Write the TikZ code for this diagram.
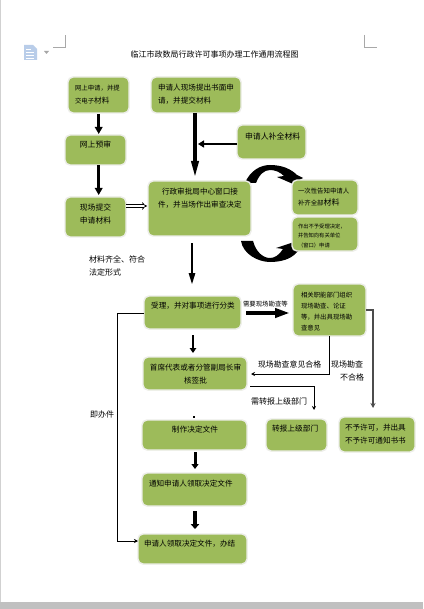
\documentclass[tikz,border=0pt]{standalone}
\usepackage{fontspec}
\setmainfont{Noto Sans CJK SC}
\usetikzlibrary{arrows.meta,calc}
\definecolor{boxgreen}{HTML}{9DBB5A}
\definecolor{boxedge}{HTML}{ECEDE8}
\definecolor{bandgray}{HTML}{C0C0C0}
\definecolor{marklines}{HTML}{A8A8A8}
\definecolor{iconblue}{HTML}{B9CDE9}
\newcommand{\fs}[1]{\fontsize{#1}{#1}\selectfont}
\newcommand{\bx}[5]{\node[greenbox,minimum width=#4pt-#2pt,minimum height=#5pt-#3pt] (#1) at ({(#2+#4)/2},{(#3+#5)/2}) {};}
\tikzset{
  x=1pt,y=-1pt,
  greenbox/.style={draw=boxedge,fill=boxgreen,line width=1.4pt,rounded corners=5pt,inner sep=0pt,outer sep=0pt},
  txt/.style={inner sep=0pt,outer sep=0pt,align=left,text=black},
  txtc/.style={inner sep=0pt,outer sep=0pt,align=center,text=black},
  heavy/.style={draw=black,line width=3pt,-{Triangle[length=7pt,width=7.5pt]}},
  thinarrow/.style={draw=black,line width=0.9pt,-{Stealth[length=4pt,width=4pt]}},
  grayarrow/.style={draw=black!70,line width=1.3pt,-{Stealth[length=5pt,width=5pt]}},
  curveblob/.style={fill=black,draw=none},
  cropmark/.style={draw=marklines,line width=0.6pt},
}
\begin{document}
\begin{tikzpicture}
\useasboundingbox (0,0) rectangle (423,609);
\fill[white] (0,0) rectangle (423,609);
\fill[black!18] (0,0) rectangle (1,602);
\fill[bandgray] (0,602) rectangle (423,609);
% page marks and icon
\draw[cropmark] (53,47) -- (65,47) -- (65,35);
\draw[cropmark] (364,35) -- (364,47) -- (377,47);
\fill[iconblue] (24,45) -- (33,45) -- (37,49) -- (37,60) -- (24,60) -- cycle;
\draw[white,line width=0.8pt] (26,49)--(31,49) (26,52)--(34,52) (26,55)--(34,55) (26,58)--(34,58);
\fill[black!35] (44,51) -- (49,51) -- (46.5,54) -- cycle;
% title
\node[txtc] (title) at (214.5,54) {\fs{8}临江市政数局行政许可事项办理工作通用流程图};
% curved arrows (below boxes)
\fill[curveblob] (245,183) .. controls (250,171) and (260,165) .. (270,165)
  .. controls (282,165) and (291,169) .. (297,175) -- (303,178) -- (292,183.5) -- (277,177)
  -- (284,176) .. controls (280,172) and (275,170) .. (270,170)
  .. controls (264,170) and (259,175) .. (256,183) -- cycle;
\fill[curveblob] (241,241) .. controls (243,254) and (258,262) .. (270,262)
  .. controls (281,262) and (291,259) .. (296,253) -- (303,247) -- (297,241) -- (276,248)
  -- (283,249) .. controls (279,255) and (275,258) .. (270,258)
  .. controls (263,258) and (256,252) .. (253,241) -- cycle;
% boxes
\bx{A}{68}{77}{129}{113}
\bx{B}{151}{77}{241}{113}
\bx{C}{65}{135}{126}{165}
\bx{D}{65}{197}{126}{237}
\bx{E}{148}{181}{251}{236}
\bx{F}{237}{125}{306}{159}
\bx{G}{292}{180}{358}{215}
\bx{H}{292}{217}{358}{251}
\bx{I}{144}{296}{241}{329}
\bx{J}{143}{357}{247}{390}
\bx{K}{293}{284}{366}{336}
\bx{L}{142}{420}{247}{450}
\bx{M}{142}{473}{247}{506}
\bx{N}{138}{534}{247}{564}
\bx{O}{266}{419}{327}{451}
\bx{P}{339}{417}{415}{452}
% box texts
\node[txt,anchor=west] (At1) at (75,88) {\fs{6.4}网上申请，并提};
\node[txt,anchor=west] (At2) at (75,101) {\fs{6.4}交电子\fs{7.6}材料};
\node[txt,anchor=west] (Bt1) at (158,88) {\fs{7.6}申请人现场提出书面申};
\node[txt,anchor=west] (Bt2) at (158,101) {\fs{7.6}请，并提交材料};
\node[txtc] (Ct) at (95.5,145) {\fs{7.8}网上预审};
\node[txtc] (Dt1) at (95.5,208) {\fs{7.8}现场提交};
\node[txtc] (Dt2) at (95.5,221) {\fs{7.8}申请材料};
\node[txt,anchor=west] (Et1) at (162,192) {\fs{7.6}行政审批局中心窗口接};
\node[txt,anchor=west] (Et2) at (158,205) {\fs{7.6}件，并当场作出审查决定};
\node[txt,anchor=west] (Ft) at (245,136) {\fs{7.9}申请人补全材料};
\node[txt,anchor=west] (Gt1) at (298,191) {\fs{6.4}一次性告知申请人};
\node[txt,anchor=west] (Gt2) at (298,202) {\fs{6.4}补齐全部\fs{8}材料};
\node[txt,anchor=west] (Ht1) at (298,226.5) {\fs{5.3}作出不予受理决定，};
\node[txt,anchor=west] (Ht2) at (298,235.5) {\fs{5.3}并告知向有关单位};
\node[txt,anchor=west] (Ht3) at (298,245) {\fs{5.3}（窗口）申请};
\node[txtc] (It) at (193,306) {\fs{7.6}受理，并对事项进行分类};
\node[txtc] (Jt1) at (195.5,368) {\fs{7.6}首席代表或者分管副局长审};
\node[txtc] (Jt2) at (195.5,381) {\fs{7.6}核签批};
\node[txt,anchor=west] (Kt1) at (301,295) {\fs{6.4}相关职能部门组织};
\node[txt,anchor=west] (Kt2) at (301,306) {\fs{6.4}现场勘查、论证};
\node[txt,anchor=west] (Kt3) at (301,317) {\fs{6.4}等，并出具现场勘};
\node[txt,anchor=west] (Kt4) at (301,328) {\fs{6.4}查意见};
\node[txtc] (Lt) at (195,430) {\fs{7.7}制作决定文件};
\node[txt,anchor=west] (Mt) at (149,484) {\fs{7.6}通知申请人领取决定文件};
\node[txt,anchor=west] (Nt) at (144,544) {\fs{7.6}申请人领取决定文件，办结};
\node[txt,anchor=west] (Ot) at (272,429) {\fs{7.7}转报上级部门};
\node[txt,anchor=west] (Pt1) at (345,428) {\fs{7.6}不予许可，并出具};
\node[txt,anchor=west] (Pt2) at (345,441) {\fs{7.6}不予许可通知书书};
% free labels
\node[txt,anchor=west] (l1) at (89,259) {\fs{8}材料齐全、符合};
\node[txt,anchor=west] (l2) at (89,272) {\fs{8}法定形式};
\node[txt,anchor=west] (l3) at (90,414) {\fs{8}即办件};
\node[txt,anchor=west] (l4) at (258,364) {\fs{7.9}现场勘查意见合格};
\node[txt,anchor=west] (l5) at (331,364) {\fs{8}现场勘查};
\node[txt,anchor=east] (l6) at (364,377) {\fs{8}不合格};
\node[txt,anchor=west] (l7) at (251,401) {\fs{8}需转报上级部门};
\node[txt,anchor=west] (l8) at (243,304) {\fs{6.4}需要现场勘查等};
% connector helper points
\coordinate (ac) at (98.7,114);
\coordinate (cc) at (98.7,134);
\coordinate (ct) at (98.7,165.5);
\coordinate (dt) at (98.7,195);
\coordinate (be) at (195,178);
\coordinate (eb) at (192,243);
\coordinate (it) at (192,285);
\coordinate (ib) at (193,335);
\coordinate (jt) at (193,353);
\coordinate (lb) at (195,452);
\coordinate (mt) at (195,469);
\coordinate (mb) at (195,511);
\coordinate (nt) at (195,529);
\coordinate (stub) at (194,416);
% connectors
\draw[heavy,line width=3pt] (ac) -- (cc);
\draw[heavy,line width=3.5pt] (ct) -- (dt);
\draw[heavy,line width=3.5pt,-{Triangle[length=17pt,width=7pt]}] (B.south -| be) -- (be);
\draw[heavy,line width=2.6pt,-{Triangle[length=6pt,width=7pt]}] (F.west |- 0,144) -- (198,144);
\draw[draw=black,line width=0.7pt,double=white,double distance=1.8pt,-{Implies[length=4pt]}] (D.east |- 0,206) -- (147,206);
\draw[heavy,line width=2.6pt,-{Triangle[length=12pt,width=6pt]}] (eb) -- (it);
\draw[heavy,line width=2.8pt,-{Triangle[length=5pt,width=6.5pt]}] (ib) -- (jt);
\draw[heavy,line width=4.5pt,-{Triangle[length=15pt,width=9pt]}] (246,313) -- (290,313);
\draw[heavy,line width=3pt,-{Triangle[length=5pt,width=7pt]}] (lb) -- (mt);
\draw[heavy,line width=4.5pt,-{Triangle[length=5pt,width=8.5pt]}] (mb) -- (nt);
\draw[black,line width=2pt] (stub) -- (194,418);
\draw[thinarrow] (K.south -| 329,0) -- (329,374) -- (251,374);
\draw[grayarrow] (K.east |- 0,310) -- (373,310) -- (373,408);
\draw[thinarrow] (250,386) -- (314,386) -- (314,410);
\draw[thinarrow] (I.west |- 0,313) -- (117,313) -- (117,541) -- (N.west |- 0,541);
\end{tikzpicture}
\end{document}
